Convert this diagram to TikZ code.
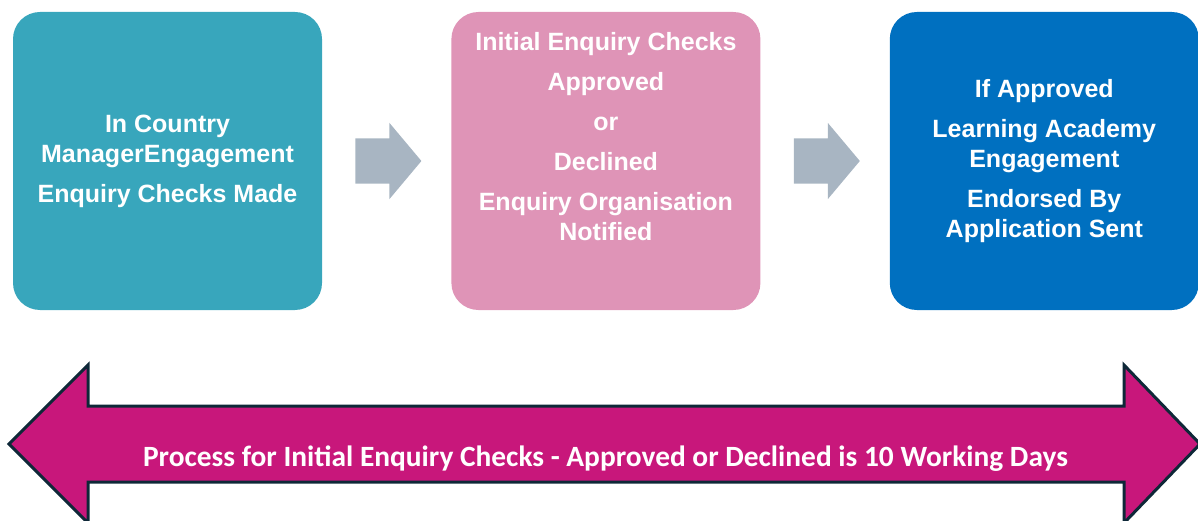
\documentclass[tikz,border=0pt]{standalone}
\usepackage{fontspec}
\setmainfont{Liberation Sans}
\newfontfamily\bandfont{Carlito}
\usetikzlibrary{positioning,calc,shapes.arrows}
\definecolor{cardTeal}{HTML}{38A6BC}
\definecolor{cardPink}{HTML}{DF94B7}
\definecolor{cardBlue}{HTML}{0070C0}
\definecolor{pushGray}{HTML}{A8B5C2}
\definecolor{bandMagenta}{HTML}{C8177B}
\definecolor{bandEdge}{HTML}{0E2838}
\tikzset{
  card/.style={rectangle,rounded corners=27pt,minimum width=309pt,minimum height=298pt,
    inner sep=0pt,text=white,align=center,font=\bfseries\fontsize{25}{30}\selectfont},
  push/.style={single arrow,fill=pushGray,inner xsep=0pt,inner ysep=22.5pt,
    minimum height=66pt,single arrow head extend=15.5pt,single arrow tip angle=100},
  band/.style={fill=bandMagenta,draw=bandEdge,line width=3pt,line join=miter}
}

\begin{document}
\begin{tikzpicture}[x=1pt,y=1pt]
\useasboundingbox (0,0) rectangle (1198,520);
% the three steps
\node[card,fill=cardTeal] (enquiry) at (167.5,359)
  {In Country\\ManagerEngagement\\[10pt]Enquiry Checks Made};
\node[card,fill=cardPink,right=129pt of enquiry] (checks)
  {Initial Enquiry Checks\\[10pt]Approved\\[10pt]or\\[10pt]Declined\\[10pt]Enquiry Organisation\\Notified\\[10pt]\strut};
\node[card,fill=cardBlue,right=129pt of checks] (approved)
  {If Approved\\[10pt]Learning Academy\\Engagement\\[10pt]Endorsed By\\Application Sent};
% grey arrows between the steps
\node[push,right=33pt of enquiry] (push1) {};
\node[push,right=33pt of checks] (push2) {};
% the double arrow along the bottom
\coordinate (tipL) at (9,76);
\coordinate (tipR) at (1200,76);
\draw[band] (tipL) -- (88,155) -- (88,114) -- (1124,114) -- (1124,155)
  -- (tipR) -- (1124,-3) -- (1124,38) -- (88,38) -- (88,-3) -- cycle;
\node[anchor=base,text=white,font=\bandfont\bfseries\fontsize{29.4}{34}\selectfont] (span) at (605.5,54)
  {Process for Initial Enquiry Checks - Approved or Declined is 10 Working Days};
\end{tikzpicture}
\end{document}
